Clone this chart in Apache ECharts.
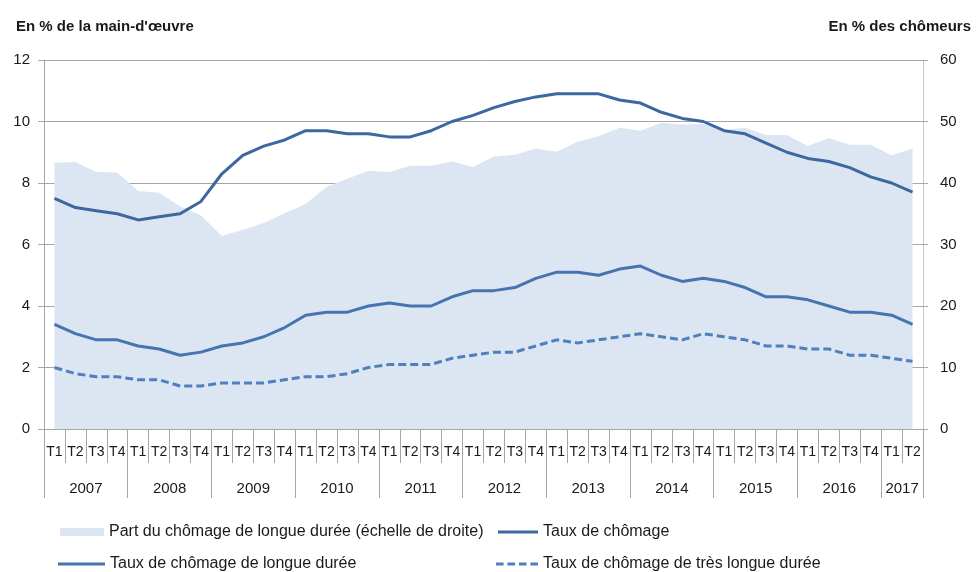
<!DOCTYPE html>
<html>
<head>
<meta charset="utf-8">
<script src="https://cdn.jsdelivr.net/npm/echarts@6/dist/echarts.min.js"></script>
<style>
  html, body { margin: 0; padding: 0; background: #fff; }
  #chart { width: 979px; height: 572px; }
</style>
</head>
<body>
<div id="chart"></div>
<script>
// trimestres 2007 T1 -> 2017 T2
var years = ['2007', '2008', '2009', '2010', '2011', '2012', '2013', '2014', '2015', '2016', '2017'];
var quartersPerYear = [4, 4, 4, 4, 4, 4, 4, 4, 4, 4, 2];

var partLongueDuree = [43.3, 43.4, 41.8, 41.7, 38.7, 38.4, 36.2, 34.7, 31.4, 32.4, 33.5, 35.1,
    36.6, 39.4, 40.7, 42.0, 41.8, 42.8, 42.8, 43.5, 42.6, 44.3, 44.6, 45.6,
    45.1, 46.7, 47.6, 49.0, 48.5, 49.8, 49.5, 49.6, 48.6, 49.0, 47.8, 47.8,
    46.0, 47.3, 46.2, 46.2, 44.5, 45.6];
var tauxChomage = [7.5, 7.2, 7.1, 7.0, 6.8, 6.9, 7.0, 7.4, 8.3, 8.9, 9.2, 9.4,
    9.7, 9.7, 9.6, 9.6, 9.5, 9.5, 9.7, 10.0, 10.2, 10.45, 10.65, 10.8,
    10.9, 10.9, 10.9, 10.7, 10.6, 10.3, 10.1, 10.0, 9.7, 9.6, 9.3, 9.0,
    8.8, 8.7, 8.5, 8.2, 8.0, 7.7];
var tauxLongue = [3.4, 3.1, 2.9, 2.9, 2.7, 2.6, 2.4, 2.5, 2.7, 2.8, 3.0, 3.3,
    3.7, 3.8, 3.8, 4.0, 4.1, 4.0, 4.0, 4.3, 4.5, 4.5, 4.6, 4.9,
    5.1, 5.1, 5.0, 5.2, 5.3, 5.0, 4.8, 4.9, 4.8, 4.6, 4.3, 4.3,
    4.2, 4.0, 3.8, 3.8, 3.7, 3.4];
var tauxTresLongue = [2.0, 1.8, 1.7, 1.7, 1.6, 1.6, 1.4, 1.4, 1.5, 1.5, 1.5, 1.6,
    1.7, 1.7, 1.8, 2.0, 2.1, 2.1, 2.1, 2.3, 2.4, 2.5, 2.5, 2.7,
    2.9, 2.8, 2.9, 3.0, 3.1, 3.0, 2.9, 3.1, 3.0, 2.9, 2.7, 2.7,
    2.6, 2.6, 2.4, 2.4, 2.3, 2.2];

var names = ['Part du chômage de longue durée (échelle de droite)', 'Taux de chômage',
    'Taux de chômage de longue durée', 'Taux de chômage de très longue durée'];

// categories T1..T4 and year boundaries
var quarters = [];
var yearBounds = [0];
var yearMids = [];
var pos = 0;
years.forEach(function (y, i) {
    for (var q = 1; q <= quartersPerYear[i]; q++) quarters.push('T' + q);
    yearMids.push(pos + quartersPerYear[i] / 2);
    pos += quartersPerYear[i];
    yearBounds.push(pos);
});

var font = 'Liberation Sans';
var gray = '#a6a6a6';
var txt = '#1a1a1a';
var dashIcon = 'path://M0,0H8V3H0Z M12,0H20V3H12Z M24,0H32V3H24Z M36,0H44V3H36Z';
var legendText = {fontFamily: font, fontSize: 16, color: txt};

var myChart = echarts.init(document.getElementById('chart'));
var option = {
    animation: false,
    textStyle: {fontFamily: font, color: txt},
    title: [
        {text: "En % de la main-d'œuvre", left: 11, top: 14,
            textStyle: {fontFamily: font, fontSize: 15, fontWeight: 'bold', color: txt}},
        {text: 'En % des chômeurs', right: 3, top: 14,
            textStyle: {fontFamily: font, fontSize: 15, fontWeight: 'bold', color: txt}}
    ],
    grid: {left: 44, right: 56, top: 60, bottom: 143},
    legend: [
        {data: [{name: names[0], icon: 'rect'}], left: 55, top: 519, itemWidth: 44, itemHeight: 8,
            textStyle: legendText},
        {data: [{name: names[1], icon: 'rect'}], left: 493, top: 519, itemWidth: 40, itemHeight: 3,
            textStyle: legendText},
        {data: [{name: names[2], icon: 'rect'}], left: 53, top: 551, itemWidth: 47, itemHeight: 3,
            textStyle: legendText},
        {data: [{name: names[3], icon: dashIcon}], left: 491, top: 551, itemWidth: 42, itemHeight: 3,
            textStyle: legendText}
    ],
    xAxis: [
        {
            type: 'category', data: quarters, boundaryGap: true, position: 'bottom',
            axisLine: {show: true, lineStyle: {color: gray, width: 1}},
            axisTick: {show: true, interval: 0, length: 34, lineStyle: {color: gray}},
            axisLabel: {interval: 0, margin: 16, fontSize: 14, color: txt, fontFamily: font},
            splitLine: {show: false}
        },
        {
            type: 'value', min: 0, max: quarters.length, position: 'bottom',
            axisLine: {show: false},
            axisTick: {show: true, customValues: yearBounds, length: 69, lineStyle: {color: gray}},
            axisLabel: {customValues: yearMids, margin: 52, fontSize: 15, color: txt, fontFamily: font,
                formatter: function (v) {
                    return years[yearMids.indexOf(v)];
                }},
            splitLine: {show: false}
        }
    ],
    yAxis: [
        {
            type: 'value', min: 0, max: 12, interval: 2, position: 'left',
            axisLine: {show: true, lineStyle: {color: gray}},
            axisTick: {show: true, length: 6, lineStyle: {color: gray}},
            axisLabel: {margin: 14, fontSize: 15, color: txt, fontFamily: font},
            splitLine: {show: true, lineStyle: {color: gray, width: 1}}
        },
        {
            type: 'value', min: 0, max: 60, interval: 10, position: 'right',
            axisLine: {show: true, lineStyle: {color: '#c8c8c8'}},
            axisTick: {show: true, length: 5, lineStyle: {color: gray}},
            axisLabel: {margin: 17, fontSize: 15, color: txt, fontFamily: font},
            splitLine: {show: false}
        }
    ],
    series: [
        {
            name: names[0], type: 'line', yAxisIndex: 1, data: partLongueDuree,
            symbol: 'none', lineStyle: {width: 0}, itemStyle: {color: '#dce6f2'},
            areaStyle: {color: '#dce6f2', opacity: 1}, z: 1
        },
        {
            name: names[1], type: 'line', yAxisIndex: 0, data: tauxChomage,
            symbol: 'none', itemStyle: {color: '#3c679f'},
            lineStyle: {color: '#3c679f', width: 3}, z: 3
        },
        {
            name: names[2], type: 'line', yAxisIndex: 0, data: tauxLongue,
            symbol: 'none', itemStyle: {color: '#4674b0'},
            lineStyle: {color: '#4674b0', width: 3}, z: 3
        },
        {
            name: names[3], type: 'line', yAxisIndex: 0, data: tauxTresLongue,
            symbol: 'none', itemStyle: {color: '#4f7fbe'},
            lineStyle: {color: '#4f7fbe', width: 3, type: [8, 4]}, z: 3
        }
    ]
};
myChart.setOption(option);
</script>
</body>
</html>
